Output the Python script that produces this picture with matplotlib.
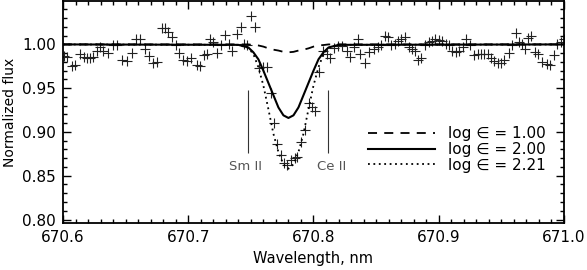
import matplotlib
matplotlib.use("Agg")
import matplotlib.pyplot as plt
from matplotlib.ticker import MultipleLocator, FormatStrFormatter

obs_wave = [
    670.6012, 670.6034, 670.6070, 670.6096, 670.6136, 670.6168, 670.6194, 670.6216,
    670.6242, 670.6269, 670.6296, 670.6322, 670.6362, 670.6402, 670.6428, 670.6468,
    670.6508, 670.6548, 670.6584, 670.6616, 670.6655, 670.6690, 670.6722, 670.6754,
    670.6789, 670.6815, 670.6842, 670.6869, 670.6903, 670.6927, 670.6962, 670.6994,
    670.7023, 670.7069, 670.7090, 670.7122, 670.7149, 670.7175, 670.7201, 670.7229,
    670.7263, 670.7295, 670.7327, 670.7353, 670.7389, 670.7423, 670.7447, 670.7471,
    670.7503, 670.7535, 670.7561, 670.7595, 670.7627, 670.7660, 670.7681, 670.7707,
    670.7740, 670.7761, 670.7791, 670.7820, 670.7851, 670.7871, 670.7902, 670.7930,
    670.7961, 670.7988, 670.8014, 670.8046, 670.8078, 670.8108, 670.8134, 670.8166,
    670.8198, 670.8230, 670.8268, 670.8294, 670.8321, 670.8356, 670.8374, 670.8414,
    670.8446, 670.8480, 670.8516, 670.8538, 670.8568, 670.8596, 670.8622, 670.8648,
    670.8675, 670.8702, 670.8734, 670.8766, 670.8787, 670.8814, 670.8835, 670.8862,
    670.8894, 670.8920, 670.8947, 670.8974, 670.9000, 670.9027, 670.9054, 670.9080,
    670.9107, 670.9134, 670.9160, 670.9195, 670.9221, 670.9248, 670.9280, 670.9312,
    670.9339, 670.9365, 670.9392, 670.9419, 670.9445, 670.9472, 670.9499, 670.9525,
    670.9560, 670.9587, 670.9613, 670.9640, 670.9667, 670.9685, 670.9711, 670.9739,
    670.9765, 670.9791, 670.9826, 670.9861, 670.9887, 670.9919, 670.9946, 670.9973,
    670.9999,
]
obs_flux = [
    0.987, 0.986, 0.975, 0.976, 0.989, 0.986, 0.984, 0.985,
    0.986, 0.993, 0.997, 0.992, 0.990, 0.999, 0.999, 0.982,
    0.981, 0.990, 1.006, 1.006, 0.995, 0.987, 0.979, 0.980,
    1.019, 1.019, 1.014, 1.009, 0.999, 0.990, 0.982, 0.981,
    0.984, 0.976, 0.975, 0.988, 0.989, 1.006, 1.003, 0.990,
    0.999, 1.011, 1.000, 0.993, 1.012, 1.020, 1.000, 0.999,
    1.033, 1.020, 0.973, 0.974, 0.974, 0.944, 0.910, 0.886,
    0.874, 0.864, 0.862, 0.868, 0.870, 0.871, 0.888, 0.902,
    0.933, 0.928, 0.924, 0.969, 0.993, 0.989, 0.984, 0.996,
    0.998, 0.998, 0.993, 0.986, 0.997, 1.006, 0.989, 0.979,
    0.991, 0.995, 0.997, 0.999, 1.010, 1.008, 0.999, 1.000,
    1.004, 1.006, 1.008, 0.997, 0.995, 0.993, 0.982, 0.984,
    0.999, 1.003, 1.004, 1.006, 1.005, 1.004, 1.001, 0.999,
    0.992, 0.991, 0.992, 0.997, 1.006, 0.999, 0.988, 0.989,
    0.989, 0.989, 0.989, 0.984, 0.981, 0.979, 0.979, 0.982,
    0.990, 0.999, 1.013, 1.003, 1.000, 0.995, 1.007, 1.010,
    0.991, 0.989, 0.980, 0.978, 0.976, 0.988, 1.000, 1.003,
    1.006,
]

# synthetic spectra for three abundances
model_wave = [
    670.600, 670.740, 670.748, 670.752, 670.756, 670.760, 670.764, 670.768,
    670.772, 670.776, 670.780, 670.784, 670.788, 670.792, 670.796, 670.800,
    670.804, 670.808, 670.812, 670.820, 671.000,
]
flux_100 = [
    1.0, 1.0, 1.0, 0.9993, 0.9988, 0.9975, 0.9955, 0.994, 0.993, 0.9915, 0.991,
    0.9915, 0.993, 0.994, 0.9955, 0.9975, 0.9988, 0.9993, 1.0, 1.0, 1.0,
]
flux_200 = [
    1.0, 0.9995, 0.9965, 0.991, 0.983, 0.970, 0.956, 0.942, 0.928, 0.919, 0.916,
    0.919, 0.928, 0.942, 0.956, 0.970, 0.983, 0.991, 0.9965, 0.9995, 1.0,
]
flux_221 = [
    1.0, 0.9995, 0.996, 0.989, 0.974, 0.953, 0.926, 0.898, 0.877, 0.863, 0.858,
    0.863, 0.877, 0.898, 0.926, 0.953, 0.974, 0.989, 0.996, 0.9995, 1.0,
]
model_labels = ["log \u2208 = 1.00", "log \u2208 = 2.00", "log \u2208 = 2.21"]

# blending lines marked below the profile
blend_names = ["Sm II", "Ce II"]
blend_wave = [670.748, 670.8113]
blend_text_wave = [670.7455, 670.8148]

plt.rcParams["font.family"] = "DejaVu Sans"

fig = plt.figure(figsize=(5.87, 2.70), dpi=100)
ax = fig.add_axes([0.1073, 0.174, 0.8535, 0.822])

ax.plot(obs_wave, obs_flux, "+", color="#222222", markersize=7.5, mew=0.8, zorder=2)

ax.plot(model_wave, flux_100, color="black", lw=1.3, ls=(0, (5, 4)), label=model_labels[0], zorder=3)
ax.plot(model_wave, flux_200, color="black", lw=1.5, ls="-", label=model_labels[1], zorder=3)
ax.plot(model_wave, flux_221, color="black", lw=1.3, ls=(0, (1, 2)), label=model_labels[2], zorder=3)

for name, w, tw in zip(blend_names, blend_wave, blend_text_wave):
    ax.vlines(w, 0.876, 0.948, color="#333333", lw=0.8)
    ax.text(tw, 0.861, name, ha="center", va="center", fontsize=9.5, color="#555555")

ax.set_xlim(670.6, 671.0)
ax.set_ylim(0.796, 1.0495)
ax.xaxis.set_major_locator(MultipleLocator(0.1))
ax.xaxis.set_minor_locator(MultipleLocator(0.01))
ax.yaxis.set_major_locator(MultipleLocator(0.05))
ax.yaxis.set_minor_locator(MultipleLocator(0.01))
ax.xaxis.set_major_formatter(FormatStrFormatter("%.1f"))
ax.yaxis.set_major_formatter(FormatStrFormatter("%.2f"))
ax.tick_params(which="both", direction="in", top=True, right=True, labelsize=11, width=1)
ax.tick_params(which="major", length=6, pad=5)
ax.tick_params(which="minor", length=3)
for sp in ax.spines.values():
    sp.set_linewidth(1.3)

ax.set_xlabel("Wavelength, nm", fontsize=10.5, labelpad=4)
ax.set_ylabel("Normalized flux", fontsize=10, labelpad=4)

ax.legend(
    loc="upper left", bbox_to_anchor=(0.609, 0.436), frameon=False, fontsize=11,
    handlelength=4.4, handletextpad=0.8, labelspacing=0.05, borderpad=0, borderaxespad=0,
)

fig.savefig("out.png", dpi=100)
